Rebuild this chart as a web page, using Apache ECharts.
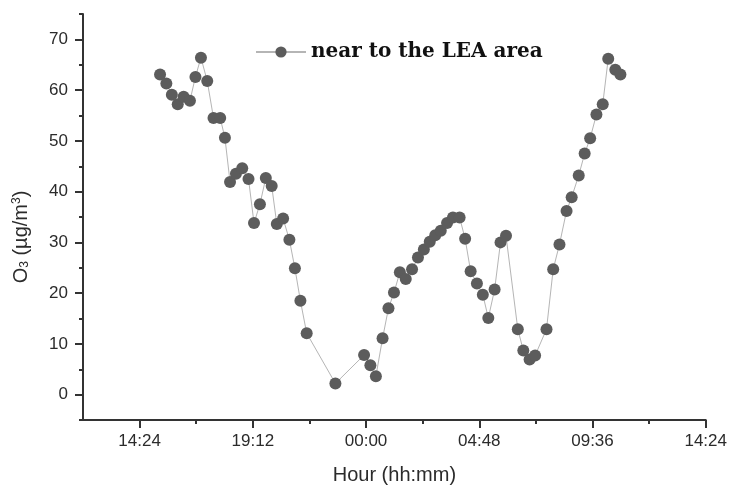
<!DOCTYPE html>
<html>
<head>
<meta charset="utf-8">
<script src="https://cdn.jsdelivr.net/npm/echarts@6/dist/echarts.min.js"></script>
<style>
html,body{margin:0;padding:0;background:#fff;}
#chart{width:730px;height:490px;}
</style>
</head>
<body>
<div id="chart"></div>
<script>
// Sampling times (hh:mm); times before 12:00 belong to the next day
const times = ['15:16','15:32','15:46','16:01','16:16','16:32','16:46','17:00','17:16','17:32',
  '17:49','18:01','18:14','18:29','18:45','19:01','19:15','19:30','19:45','20:00',
  '20:13','20:29','20:45','20:59','21:13','21:29','22:42','23:55','00:11','00:25',
  '00:42','00:57','01:11','01:26','01:41','01:57','02:12','02:27','02:42','02:56',
  '03:10','03:26','03:41','03:58','04:12','04:26','04:42','04:57','05:11','05:27',
  '05:42','05:56','06:26','06:40','06:56','07:10','07:39','07:56','08:12','08:30',
  '08:43','09:01','09:16','09:30','09:46','10:02','10:16','10:34','10:47'];
// O3 concentration (µg/m3)
const o3 = [63.1,61.3,59.1,57.2,58.7,57.9,62.6,66.4,61.8,54.5,
  54.5,50.6,41.9,43.5,44.6,42.5,33.8,37.5,42.7,41.1,
  33.6,34.7,30.5,24.9,18.5,12.1,2.2,7.8,5.8,3.6,
  11.1,17.0,20.1,24.1,22.8,24.7,27.0,28.6,30.1,31.4,
  32.3,33.8,34.9,34.9,30.7,24.3,21.9,19.7,15.1,20.7,
  30.0,31.3,12.9,8.7,6.9,7.7,12.9,24.7,29.6,36.2,
  38.9,43.2,47.5,50.5,55.2,57.2,66.2,64.0,63.1];
const seriesName = 'near to the LEA area';
// Axis ticks
const xMajorTicks = ['14:24','19:12','00:00','04:48','09:36','14:24'];
const xMinorTicks = ['16:48','21:36','02:24','07:12','12:00'];
const xStart = '12:00', xEnd = '14:24';
const yMajorTicks = [0,10,20,30,40,50,60,70];
const yMinorTicks = [-5,5,15,25,35,45,55,65,75];
const yMin = -5, yMax = 75;

// 'hh:mm' -> minutes from midnight of day 1 (morning times belong to day 2)
function toMin(t, forceNext){
  const [h,m] = t.split(':').map(Number);
  let v = h*60+m;
  if (v < 720 || forceNext) v += 1440;
  return v;
}
const xMajorVals = xMajorTicks.map((t,i)=> toMin(t, i===xMajorTicks.length-1));
const xMinorVals = xMinorTicks.map((t,i)=> toMin(t, i===xMinorTicks.length-1));
const xMin = toMin(xStart);
const xMax = toMin(xEnd, true);
const data = times.map((t,i)=>[toMin(t), o3[i]]);

function fmt(v){
  v = ((v % 1440) + 1440) % 1440;
  const h = Math.floor(v/60), m = Math.round(v%60);
  return String(h).padStart(2,'0')+':'+String(m).padStart(2,'0');
}

const txt = '#2b2b2b';
const axisCol = '#333';
const chart = echarts.init(document.getElementById('chart'), null, {renderer:'canvas'});
chart.setOption({
  backgroundColor:'#fff',
  animation:false,
  grid:{left:83, right:23, top:14, bottom:63.5, containLabel:false},
  legend:{
    left:250, top:37,
    itemWidth:50, itemHeight:14, itemGap:10,
    data:[seriesName],
    textStyle:{fontFamily:'DejaVu Serif', fontWeight:'bold', fontSize:20, color:'#111'}
  },
  xAxis:[{
    type:'value', min:xMin, max:xMax,
    axisLine:{show:true, onZero:false, lineStyle:{color:axisCol, width:2}},
    axisTick:{show:true, inside:false, length:8, lineStyle:{color:axisCol, width:2}, customValues:xMajorVals},
    axisLabel:{show:true, margin:13, color:txt, fontSize:17, fontFamily:'Liberation Sans', customValues:xMajorVals, formatter:fmt},
    splitLine:{show:false},
    name:'Hour (hh:mm)', nameLocation:'middle', nameGap:45,
    nameTextStyle:{color:txt, fontSize:20, fontFamily:'Liberation Sans'}
  },{
    type:'value', min:xMin, max:xMax, position:'bottom',
    axisLine:{show:false, onZero:false},
    axisTick:{show:true, length:4, lineStyle:{color:axisCol, width:2}, customValues:xMinorVals},
    axisLabel:{show:false}, splitLine:{show:false}
  }],
  yAxis:[{
    type:'value', min:yMin, max:yMax,
    axisLine:{show:true, onZero:false, lineStyle:{color:axisCol, width:2}},
    axisTick:{show:true, length:8, lineStyle:{color:axisCol, width:2}, customValues:yMajorTicks},
    axisLabel:{show:true, margin:15, color:txt, fontSize:17, fontFamily:'Liberation Sans', customValues:yMajorTicks},
    splitLine:{show:false},
    name:'O{sub|3} (µg/m{sup|3})', nameLocation:'middle', nameGap:52, nameRotate:90,
    nameTextStyle:{color:txt, fontSize:20, fontFamily:'Liberation Sans', padding:[0,40,0,0],
      rich:{sub:{fontSize:12, fontFamily:'Liberation Sans', color:txt, verticalAlign:'bottom', padding:[8,0,0,0]},
            sup:{fontSize:12, fontFamily:'Liberation Sans', color:txt, verticalAlign:'top', padding:[0,0,8,0]}}}
  },{
    type:'value', min:yMin, max:yMax, position:'left',
    axisLine:{show:false, onZero:false},
    axisTick:{show:true, length:4, lineStyle:{color:axisCol, width:2}, customValues:yMinorTicks},
    axisLabel:{show:false}, splitLine:{show:false}
  }],
  series:[{
    name:seriesName, type:'line', xAxisIndex:0, yAxisIndex:0,
    data:data,
    symbol:'circle', symbolSize:12,
    itemStyle:{color:'#5c5c5c'},
    lineStyle:{color:'#b5b5b5', width:1}
  }]
});
</script>
</body>
</html>
